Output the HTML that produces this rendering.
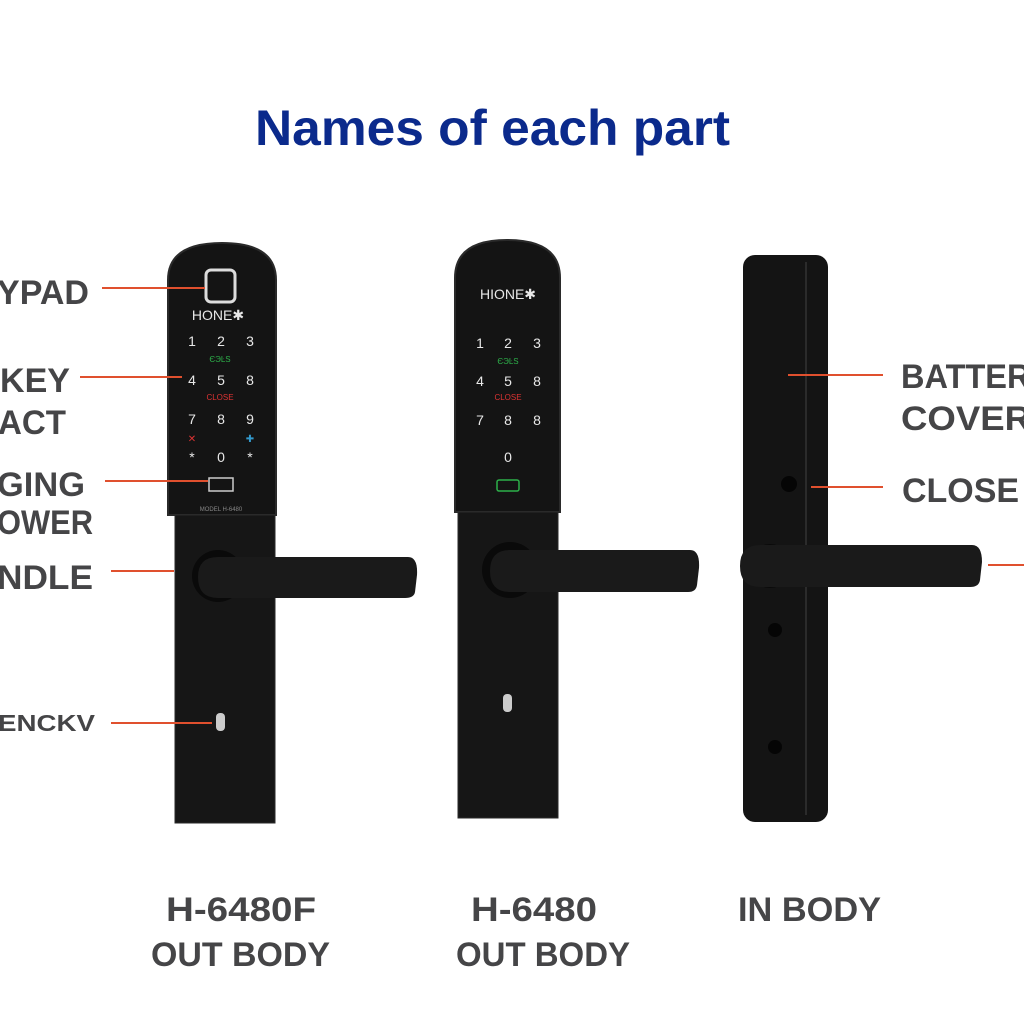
<!DOCTYPE html>
<html><head><style>
html,body{margin:0;padding:0;background:#fff;}
svg{display:block;}
.lbl{font-family:"Liberation Sans",sans-serif;font-size:34px;fill:#454547;font-weight:bold;}
.key{font-family:"Liberation Sans",sans-serif;font-size:14px;fill:#e8e8e8;text-anchor:middle;}
</style></head><body>
<svg width="1024" height="1024" viewBox="0 0 1024 1024" xmlns="http://www.w3.org/2000/svg">
<rect width="1024" height="1024" fill="#fff"/>
<text x="255" y="145" textLength="475" lengthAdjust="spacingAndGlyphs" font-family="Liberation Sans,sans-serif" font-weight="bold" font-size="50" fill="#0b2a8c">Names of each part</text>

<!-- Device 1 -->
<path d="M168,515 L168,280 Q168,243 222,243 Q276,243 276,280 L276,515 Z" fill="#141414" stroke="#2a2a2a" stroke-width="2"/>
<rect x="175" y="515" width="100" height="308" fill="#161616" stroke="#2a2a2a"/>
<rect x="206" y="270" width="29" height="32" rx="5" fill="none" stroke="#ddd" stroke-width="3"/>
<text x="218" y="320" class="key" font-size="12">HONE✱</text>
<text x="192" y="346" class="key">1</text><text x="221" y="346" class="key">2</text><text x="250" y="346" class="key">3</text>
<text x="220" y="362" class="key" style="fill:#2db04a;font-size:8px">ЄЭĿS</text>
<text x="192" y="385" class="key">4</text><text x="221" y="385" class="key">5</text><text x="250" y="385" class="key">8</text>
<text x="220" y="400" class="key" style="fill:#d33;font-size:8px">CLOSE</text>
<text x="192" y="424" class="key">7</text><text x="221" y="424" class="key">8</text><text x="250" y="424" class="key">9</text>
<text x="192" y="442" class="key" style="fill:#d33;font-size:10px">✕</text><text x="250" y="442" class="key" style="fill:#39c;font-size:10px">✚</text>
<text x="192" y="462" class="key">*</text><text x="221" y="462" class="key">0</text><text x="250" y="462" class="key">*</text>
<rect x="209" y="478" width="24" height="13" fill="none" stroke="#ccc" stroke-width="1.5"/>
<text x="221" y="511" class="key" style="font-size:6px;fill:#888">MODEL H-6480</text>
<circle cx="218" cy="576" r="26" fill="#0a0a0a"/>
<path d="M218,557 L408,557 Q418,557 417,575 L415,592 Q414,598 405,598 L218,598 Q198,598 198,577 Q198,557 218,557 Z" fill="#1a1a1a"/>
<rect x="216" y="713" width="9" height="18" rx="4" fill="#ccc"/>

<!-- Device 2 -->
<path d="M455,512 L455,278 Q455,240 507,240 Q560,240 560,278 L560,512 Z" fill="#141414" stroke="#2a2a2a" stroke-width="2"/>
<rect x="458" y="512" width="100" height="306" fill="#161616" stroke="#2a2a2a"/>
<text x="508" y="299" class="key" font-size="12">HIONE✱</text>
<text x="480" y="348" class="key">1</text><text x="508" y="348" class="key">2</text><text x="537" y="348" class="key">3</text>
<text x="508" y="364" class="key" style="fill:#2db04a;font-size:8px">ЄЭĿS</text>
<text x="480" y="386" class="key">4</text><text x="508" y="386" class="key">5</text><text x="537" y="386" class="key">8</text>
<text x="508" y="400" class="key" style="fill:#d33;font-size:8px">CLOSE</text>
<text x="480" y="425" class="key">7</text><text x="508" y="425" class="key">8</text><text x="537" y="425" class="key">8</text>
<text x="508" y="462" class="key">0</text>
<rect x="497" y="480" width="22" height="11" rx="2" fill="none" stroke="#2db04a" stroke-width="1.5"/>
<circle cx="510" cy="570" r="28" fill="#0a0a0a"/>
<path d="M510,550 L690,550 Q700,550 699,568 L697,585 Q696,592 688,592 L510,592 Q490,592 490,571 Q490,550 510,550 Z" fill="#1a1a1a"/>
<rect x="503" y="694" width="9" height="18" rx="4" fill="#ccc"/>

<!-- Device 3 -->
<rect x="743" y="255" width="85" height="567" rx="12" fill="#141414"/>
<line x1="806" y1="262" x2="806" y2="815" stroke="#2b2b2b" stroke-width="2"/>
<circle cx="789" cy="484" r="8" fill="#050505"/>
<circle cx="770" cy="566" r="22" fill="#0a0a0a"/>
<path d="M760,545 L972,545 Q982,545 982,562 L980,580 Q979,587 970,587 L760,587 Q740,587 740,566 Q740,545 760,545 Z" fill="#1a1a1a"/>
<circle cx="775" cy="630" r="7" fill="#050505"/>
<circle cx="775" cy="747" r="7" fill="#050505"/>

<!-- connector lines -->
<g stroke="#e0502e" stroke-width="2">
<line x1="102" y1="288" x2="205" y2="288"/>
<line x1="80" y1="377" x2="182" y2="377"/>
<line x1="105" y1="481" x2="208" y2="481"/>
<line x1="111" y1="571" x2="174" y2="571"/>
<line x1="111" y1="723" x2="212" y2="723"/>
<line x1="788" y1="375" x2="883" y2="375"/>
<line x1="811" y1="487" x2="883" y2="487"/>
<line x1="988" y1="565" x2="1024" y2="565"/>
</g>

<!-- labels -->
<text x="-3" y="304" class="lbl" textLength="92" lengthAdjust="spacingAndGlyphs">YPAD</text>
<text x="0" y="392" class="lbl" textLength="70" lengthAdjust="spacingAndGlyphs">KEY</text>
<text x="-2" y="434" class="lbl" textLength="68" lengthAdjust="spacingAndGlyphs">ACT</text>
<text x="-3" y="496" class="lbl" textLength="88" lengthAdjust="spacingAndGlyphs">GING</text>
<text x="-3" y="534" class="lbl" textLength="96" lengthAdjust="spacingAndGlyphs">OWER</text>
<text x="-3" y="589" class="lbl" textLength="96" lengthAdjust="spacingAndGlyphs">NDLE</text>
<text x="-2" y="731" class="lbl" style="font-size:23px" textLength="97" lengthAdjust="spacingAndGlyphs">ENCKV</text>
<text x="901" y="388" class="lbl" textLength="150" lengthAdjust="spacingAndGlyphs">BATTERY</text>
<text x="901" y="430" class="lbl" textLength="130" lengthAdjust="spacingAndGlyphs">COVER</text>
<text x="902" y="502" class="lbl" textLength="117" lengthAdjust="spacingAndGlyphs">CLOSE</text>

<text x="166" y="921" class="lbl" textLength="150" lengthAdjust="spacingAndGlyphs">H-6480F</text>
<text x="151" y="966" class="lbl" textLength="179" lengthAdjust="spacingAndGlyphs">OUT BODY</text>
<text x="471" y="921" class="lbl" textLength="126" lengthAdjust="spacingAndGlyphs">H-6480</text>
<text x="456" y="966" class="lbl" textLength="174" lengthAdjust="spacingAndGlyphs">OUT BODY</text>
<text x="738" y="921" class="lbl" textLength="143" lengthAdjust="spacingAndGlyphs">IN BODY</text>
</svg>
</body></html>
